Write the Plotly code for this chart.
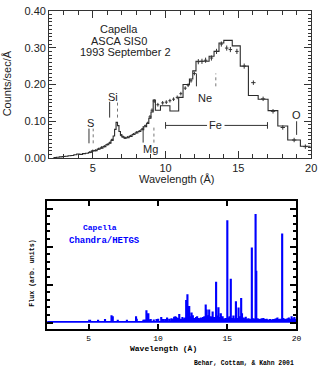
import plotly.graph_objects as go

W, H = 326, 379

# ---------------- ASCA SIS0 (upper panel) ----------------
# model spectrum as a step histogram: bin edges (Å) and counts/sec/Å per bin
sis0_edges = [2.3, 2.5, 2.7, 2.9, 3.1, 3.3, 3.5, 3.7, 3.9, 4.1, 4.3, 4.5, 4.7, 4.9,
              5.1, 5.3, 5.5, 5.7, 5.9, 6.1, 6.25, 6.4, 6.5, 6.6, 6.7, 6.8, 6.9, 7.0,
              7.15, 7.3, 7.5, 7.7, 7.9, 8.1, 8.3, 8.5, 8.7, 8.85, 9.0, 9.15, 9.3,
              9.65, 10.3, 10.9, 11.2, 11.64, 11.87, 12.09, 12.99, 13.33, 13.67,
              14.0, 14.58, 15.13, 15.69, 16.36, 17.04, 17.71, 18.39, 19.26, 19.96]
sis0_model = [0.001, 0.002, 0.003, 0.004, 0.005, 0.006, 0.007, 0.009, 0.011, 0.010,
              0.012, 0.013, 0.015, 0.019, 0.020, 0.024, 0.027, 0.031, 0.036, 0.040,
              0.048, 0.060, 0.078, 0.097, 0.088, 0.072, 0.063, 0.057, 0.054, 0.055,
              0.059, 0.064, 0.068, 0.072, 0.077, 0.085, 0.094, 0.108, 0.125, 0.158,
              0.130, 0.142, 0.128, 0.165, 0.200, 0.215, 0.237, 0.263, 0.277, 0.290,
              0.313, 0.320, 0.305, 0.250, 0.170, 0.160, 0.129, 0.087, 0.049, 0.032]

# observed rates with error bars
sis0_wl = [4.8, 5.0, 5.2, 5.4, 5.6, 5.8, 6.0, 6.18, 6.33, 6.95, 7.08, 7.22, 7.4,
           7.6, 7.8, 8.0, 8.2, 8.4, 8.6, 8.78, 8.93, 9.07, 9.22, 9.47, 9.8, 10.05,
           10.3, 10.55, 10.8, 11.05, 11.35, 11.55, 11.75, 11.98, 12.25, 12.5,
           12.75, 13.15, 13.5, 13.83, 14.2, 14.45, 14.9, 15.4, 16.03, 16.7, 17.38,
           18.05, 18.83, 19.6]
sis0_rate = [0.016, 0.020, 0.021, 0.025, 0.029, 0.032, 0.037, 0.042, 0.050, 0.062,
             0.058, 0.055, 0.057, 0.060, 0.065, 0.070, 0.073, 0.079, 0.088, 0.096,
             0.112, 0.130, 0.155, 0.145, 0.150, 0.152, 0.156, 0.160, 0.165, 0.175,
             0.190, 0.198, 0.210, 0.230, 0.262, 0.263, 0.266, 0.272, 0.290, 0.310,
             0.299, 0.295, 0.290, 0.250, 0.205, 0.161, 0.127, 0.083, 0.049, 0.031]
sis0_dwl = [0.08] * 20 + [0.1] * 14 + [0.12] * 10 + [0.15] * 6
sis0_err = [0.003] * 20 + [0.005] * 14 + [0.007] * 10 + [0.006] * 6

# line identifications: label, solid marker, dotted marker (Å)
id_labels = ["S", "Si", "Mg", "Ne", "O"]
id_solid = [4.74, 6.16, 8.46, 12.12, 19.0]
id_dotted = [5.03, 6.70, 9.20, 13.45, None]
id_label_pos = [(4.82, 0.095), (6.42, 0.166), (9.0, 0.025), (12.71, 0.163), (18.99, 0.117)]
id_tick_span = [(0.040, 0.080), (0.110, 0.153), (0.042, 0.087), (0.195, 0.230), (0.063, 0.100)]
fe_band = (10.0, 17.0)

y_ticks_top = [0.0, 0.1, 0.2, 0.3, 0.4]

# ---------------- Chandra HETGS (lower panel) ----------------
hetgs_base = 0.02
hetgs_wl = [5.04, 5.10, 5.68, 6.18, 6.65, 6.69, 6.74, 7.10, 7.76, 8.42, 8.47, 8.95,
            9.02, 9.10, 9.17, 9.23, 9.31, 9.38, 9.48, 9.70, 9.90, 10.02, 10.24, 10.36,
            10.52, 10.66, 10.82, 10.98, 11.03, 11.17, 11.26, 11.33, 11.42, 11.54,
            11.65, 11.77, 11.88, 11.97, 12.04, 12.13, 12.26, 12.32, 12.43, 12.52,
            12.64, 12.75, 12.83, 12.92, 13.02, 13.10, 13.20, 13.26, 13.35, 13.45,
            13.52, 13.57, 13.64, 13.70, 13.79, 13.84, 13.95, 14.06, 14.20, 14.26,
            14.37, 14.45, 14.54, 14.61, 14.67, 14.75, 14.83, 14.92, 15.01, 15.08,
            15.18, 15.26, 15.35, 15.45, 15.52, 15.63, 15.71, 15.82, 15.87, 15.93,
            16.01, 16.07, 16.17, 16.24, 16.34, 16.45, 16.53, 16.60, 16.68, 16.78,
            16.88, 16.96, 17.05, 17.10, 17.20, 17.30, 17.40, 17.50, 17.62, 17.75,
            17.85, 17.98, 18.10, 18.20, 18.32, 18.45, 18.55, 18.63, 18.72, 18.82,
            18.97, 19.05, 19.15, 19.25, 19.35, 19.45, 19.55, 19.65, 19.75, 19.85,
            19.93]
hetgs_flux = [0.03, 0.03, 0.03, 0.05, 0.15, 0.12, 0.12, 0.03, 0.03, 0.12, 0.06, 0.03,
              0.04, 0.04, 0.28, 0.04, 0.20, 0.04, 0.05, 0.04, 0.05, 0.06, 0.10, 0.05,
              0.05, 0.09, 0.06, 0.07, 0.06, 0.11, 0.12, 0.10, 0.08, 0.18,
              0.06, 0.10, 0.07, 0.09, 0.55, 0.70, 0.39, 0.12, 0.22, 0.15,
              0.08, 0.10, 0.12, 0.08, 0.07, 0.09, 0.08, 0.10, 0.12, 0.43,
              0.30, 0.15, 0.12, 0.30, 0.12, 0.10, 0.25, 0.10, 1.03, 0.14,
              0.36, 0.10, 0.20, 0.08, 0.12, 0.06, 0.07, 0.08, 2.65, 0.09,
              0.12, 1.11, 0.08, 0.14, 0.07, 0.52, 0.08, 0.35, 0.12, 0.09,
              0.60, 0.20, 0.09, 0.07, 0.11, 0.06, 0.07, 0.05, 0.06, 1.93,
              0.07, 0.06, 2.81, 1.32, 0.07, 0.05, 0.06, 0.07, 0.08, 0.05,
              0.06, 0.04, 0.05, 0.04, 0.05, 0.06, 0.07, 0.09, 0.05, 0.06,
              2.30, 0.08, 0.06, 0.05, 0.07, 0.09, 0.06, 0.12, 0.07, 0.10,
              0.06]


def px(x):
    return x / W


def py(y):
    return 1 - y / H


fig = go.Figure()

# upper panel: model histogram
step_x = sis0_edges
step_y = sis0_model + [sis0_model[-1]]
fig.add_trace(go.Scatter(x=step_x, y=step_y, mode="lines", line_shape="hv",
                         line=dict(color="#2a2a2a", width=1.1),
                         xaxis="x", yaxis="y", showlegend=False, hoverinfo="skip"))
# upper panel: data crosses
fig.add_trace(go.Scatter(x=sis0_wl, y=sis0_rate, mode="markers",
                         marker=dict(size=1, color="#333", opacity=0),
                         error_x=dict(type="data", array=sis0_dwl, width=0, thickness=1, color="#333"),
                         error_y=dict(type="data", array=sis0_err, width=0, thickness=1, color="#333"),
                         xaxis="x", yaxis="y", showlegend=False, hoverinfo="skip"))

# lower panel: HETGS spectrum drawn as narrow bins
hw = 0.012
sx, sy = [2.0], [hetgs_base]
for wl, f in sorted(zip(hetgs_wl, hetgs_flux)):
    sx += [wl - hw, wl - hw, wl + hw, wl + hw]
    sy += [hetgs_base, hetgs_base + f, hetgs_base + f, hetgs_base]
sx.append(20.0)
sy.append(hetgs_base)
fig.add_trace(go.Scatter(x=sx, y=sy, mode="lines",
                         line=dict(color="#0000ff", width=1.8),
                         xaxis="x2", yaxis="y2", showlegend=False, hoverinfo="skip"))

shapes = []
annotations = []
top_font = dict(family="Liberation Sans, Arial", size=11, color="#222")
mono = "Liberation Mono, DejaVu Sans Mono"

for lab, s, d, (lx, ly), (y0, y1) in zip(id_labels, id_solid, id_dotted, id_label_pos, id_tick_span):
    shapes.append(dict(type="line", xref="x", yref="y", x0=s, x1=s, y0=y0, y1=y1,
                       line=dict(color="#333", width=1)))
    if d is not None:
        shapes.append(dict(type="line", xref="x", yref="y", x0=d, x1=d, y0=y0, y1=y1,
                           line=dict(color="#777", width=1, dash="dot")))
    annotations.append(dict(x=lx, y=ly, xref="x", yref="y", text=lab, showarrow=False,
                            font=top_font, xanchor="center", yanchor="middle"))

# Fe band with end caps
fe_y = 0.0887
shapes += [
    dict(type="line", xref="x", yref="y", x0=fe_band[0], x1=12.85, y0=fe_y, y1=fe_y,
         line=dict(color="#333", width=1)),
    dict(type="line", xref="x", yref="y", x0=14.05, x1=fe_band[1], y0=fe_y, y1=fe_y,
         line=dict(color="#333", width=1)),
    dict(type="line", xref="x", yref="y", x0=fe_band[0], x1=fe_band[0], y0=fe_y - 0.009,
         y1=fe_y + 0.009, line=dict(color="#333", width=1)),
    dict(type="line", xref="x", yref="y", x0=fe_band[1], x1=fe_band[1], y0=fe_y - 0.009,
         y1=fe_y + 0.009, line=dict(color="#333", width=1)),
]
annotations.append(dict(x=13.45, y=fe_y, xref="x", yref="y", text="Fe", showarrow=False,
                        font=top_font, xanchor="center", yanchor="middle"))

# upper panel captions and titles
for txt, cx, cy in [("Capella", 121, 24), ("ASCA SIS0", 121, 36), ("1993 September 2", 128, 48)]:
    annotations.append(dict(x=px(cx), y=py(cy), xref="paper", yref="paper", text=txt,
                            showarrow=False, font=top_font, xanchor="center", yanchor="middle",
                            borderpad=0))
annotations.append(dict(x=px(179.5), y=py(179), xref="paper", yref="paper", text="Wavelength (Å)",
                        showarrow=False, font=top_font, xanchor="center", yanchor="middle",
                        borderpad=0))
annotations.append(dict(x=px(8), y=py(80), xref="paper", yref="paper", text="Counts/sec/Å",
                        textangle=-90, showarrow=False, font=top_font,
                        xanchor="center", yanchor="middle"))

# lower panel captions and titles
blue_font = dict(family=mono, size=8, color="#0000ff")
annotations.append(dict(x=px(102), y=py(228.5), xref="paper", yref="paper", text="<b>Capella</b>",
                        showarrow=False, font=blue_font, xanchor="center", yanchor="middle"))
annotations.append(dict(x=px(106.5), y=py(242.5), xref="paper", yref="paper",
                        text="<b>Chandra/HETGS</b>", showarrow=False,
                        font=dict(family=mono, size=9, color="#0000ff"),
                        xanchor="center", yanchor="middle"))
annotations.append(dict(x=px(167), y=py(354), xref="paper", yref="paper",
                        text="<b>Wavelength (Å)</b>", showarrow=False,
                        font=dict(family=mono, size=8, color="#000"),
                        xanchor="center", yanchor="middle", borderpad=0))
annotations.append(dict(x=px(33), y=py(276), xref="paper", yref="paper",
                        text="<b>Flux (arb. units)</b>", textangle=-90, showarrow=False,
                        font=dict(family=mono, size=6.6, color="#000"),
                        xanchor="center", yanchor="middle"))
annotations.append(dict(x=px(301), y=py(369.5), xref="paper", yref="paper",
                        text="<b>Behar, Cottam, & Kahn 2001</b>", showarrow=False,
                        font=dict(family=mono, size=6.4, color="#000"),
                        xanchor="right", yanchor="middle", borderpad=0))

axis_top = dict(showgrid=False, zeroline=False, showline=True, linecolor="#333", linewidth=1,
                mirror="allticks", ticks="inside", tickcolor="#333", ticklabeloverflow="allow")

fig.update_layout(
    width=W, height=H, margin=dict(l=0, r=0, t=0, b=0),
    paper_bgcolor="white", plot_bgcolor="white",
    xaxis=dict(domain=[px(50), px(317)], anchor="y", range=[2, 20], tick0=0, dtick=5,
               ticklen=7, minor=dict(dtick=1, ticklen=4, ticks="inside", tickcolor="#333"),
               tickfont=top_font, **axis_top),
    yaxis=dict(domain=[py(157), py(5)], anchor="x", range=[0, 0.4003],
               tickmode="array", tickvals=y_ticks_top,
               ticktext=[f"{v:.2f}" for v in y_ticks_top], ticklen=7,
               minor=dict(dtick=0.01, tick0=0, ticklen=3, ticks="inside", tickcolor="#333"),
               tickfont=top_font, **axis_top),
    xaxis2=dict(domain=[px(48), px(302)], anchor="y2", range=[2, 20], tick0=0, dtick=5,
                showgrid=False, zeroline=False, showline=True, linecolor="#000", linewidth=2,
                mirror="allticks", ticks="inside", ticklen=5, tickwidth=1.5, tickcolor="#000",
                tickfont=dict(family=mono, size=8, color="#000")),
    yaxis2=dict(domain=[py(334), py(201.7)], anchor="x2", range=[-0.18, 3.19], tick0=0, dtick=1,
                showgrid=False, zeroline=False, showline=True, linecolor="#000", linewidth=2,
                mirror="allticks", ticks="inside", ticklen=6, tickwidth=1.5, tickcolor="#000",
                showticklabels=False,
                minor=dict(dtick=0.2, ticklen=3, ticks="inside", tickcolor="#000")),
    shapes=shapes, annotations=annotations,
)

fig.write_html("out.html")
